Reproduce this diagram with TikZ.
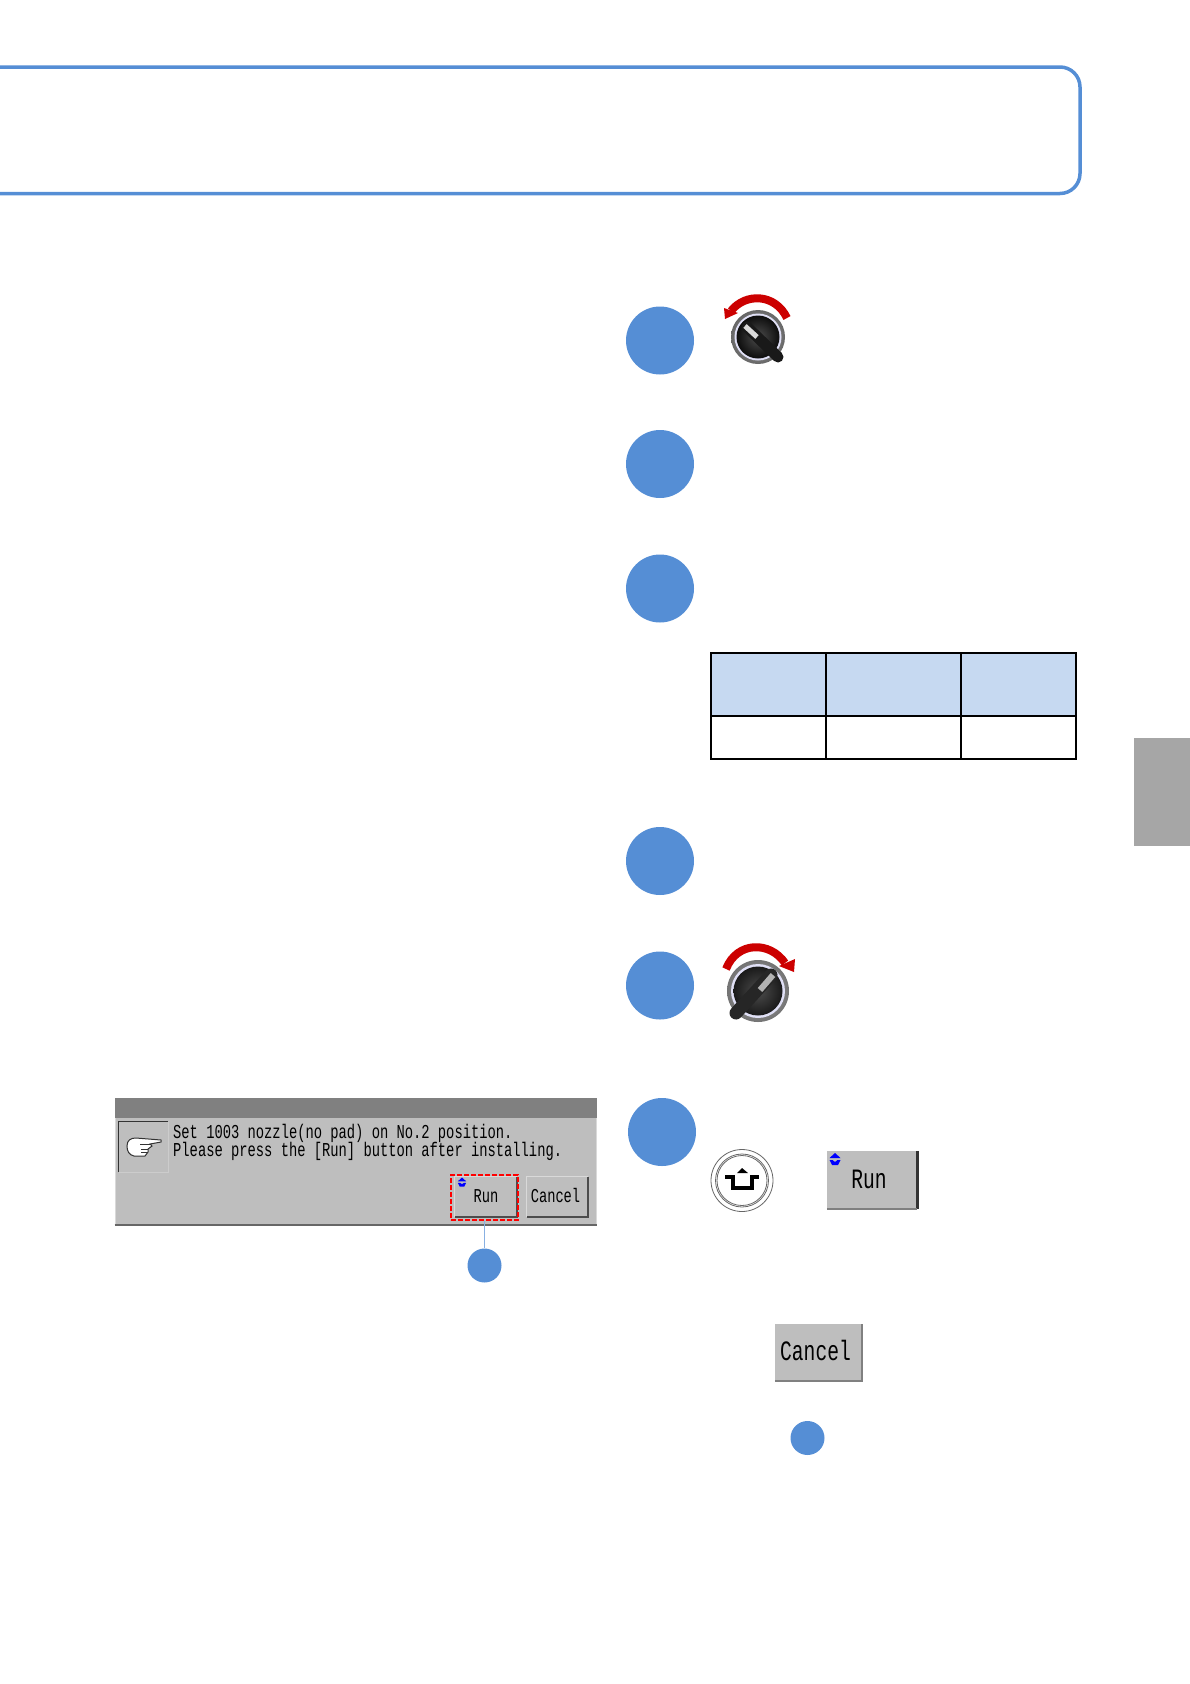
\documentclass[tikz,border=0pt]{standalone}
\usepackage{fontspec}
\usepackage{xcolor}
\usepackage{tikz}
\usetikzlibrary{shapes,arrows,positioning,calc}
\newfontfamily\lcdfont[FakeStretch=0.7]{Liberation Mono}
\definecolor{stepblue}{HTML}{558ED5}
\definecolor{headblue}{HTML}{C6D9F1}
\definecolor{paneltone}{HTML}{BEBEBE}
\definecolor{knobred}{HTML}{CC0000}
\tikzset{
  stepdot/.style={circle, fill=stepblue, inner sep=0pt, minimum size=68pt},
  notedot/.style={circle, fill=stepblue, inner sep=0pt, minimum size=34pt},
  headcell/.style={draw=black, line width=2pt, fill=headblue, inner sep=0pt, minimum height=63pt},
  bodycell/.style={draw=black, line width=2pt, inner sep=0pt, minimum height=43pt},
  panelbtn/.style={fill=paneltone, inner sep=0pt, font=\lcdfont\fontsize{19.6}{22}\selectfont},
  bigbtn/.style={fill=paneltone, inner sep=0pt, font=\lcdfont\fontsize{28}{30}\selectfont},
  dialogline/.style={anchor=base west, inner sep=0pt, font=\lcdfont\fontsize{19.7}{22}\selectfont},
  updown/.pic={
    \fill[blue] (0,-6) -- (5.5,-1) -- (-5.5,-1) -- cycle;
    \fill[blue] (-5.5,1) -- (-2.5,1) -- (0,3) -- (2.5,1) -- (5.5,1) -- (3,6) -- (-3,6) -- cycle;
  }
}
\begin{document}
\begin{tikzpicture}[x=1pt, y=-1pt]
  \useasboundingbox (0,0) rectangle (1190,1684);
  % top frame and side tab
  \draw[stepblue, line width=3.5pt, rounded corners=20pt] (-10,67) -- (1080,67) -- (1080,193.5) -- (-10,193.5);
  \clip (0,0) rectangle (1190,1684);
  \node[fill=black!35, inner sep=0pt, minimum width=56pt, minimum height=108pt] (sidetab) at (1162,792) {};
  % step circles
  \node[stepdot] (stepa) at (660,340.5) {};
  \node[stepdot] (stepb) at (660,464) {};
  \node[stepdot] (stepc) at (660,588.5) {};
  \node[stepdot] (stepd) at (660,861) {};
  \node[stepdot] (stepe) at (660,985.5) {};
  \node[stepdot] (stepf) at (662,1132) {};
  % table
  \node[headcell, minimum width=115pt] (heada) at (768.5,684.5) {};
  \node[headcell, minimum width=135pt] (headb) at (893.5,684.5) {};
  \node[headcell, minimum width=115pt] (headc) at (1018.5,684.5) {};
  \node[bodycell, minimum width=115pt] (cella) at (768.5,737.5) {};
  \node[bodycell, minimum width=135pt] (cellb) at (893.5,737.5) {};
  \node[bodycell, minimum width=115pt] (cellc) at (1018.5,737.5) {};
  % first knob
  \node[circle, inner sep=0pt, minimum size=54pt, inner color=black!30, outer color=black!60] (knoba) at (758,337) {};
  \node[circle, inner sep=0pt, minimum size=47pt, fill=black!30!blue!12] (rima) at (758,337) {};
  \node[circle, inner sep=0pt, minimum size=43pt, inner color=black!70, outer color=black!95] (capa) at (758,337) {};
  \draw[black!90, line width=11pt, line cap=round] (747,327) -- (778,357);
  \draw[black!15, line width=5pt] (745,326) -- (757,337);
  \draw[knobred, line width=8pt] (787,318) .. controls (775,293) and (745,293) .. (731,311);
  \fill[knobred] (724,308) -- (725,319) -- (738,313) -- cycle;
  % second knob
  \node[circle, inner sep=0pt, minimum size=62pt, inner color=black!30, outer color=black!55] (knobb) at (758,991) {};
  \node[circle, inner sep=0pt, minimum size=54pt, fill=black!30!blue!12] (rimb) at (758,991) {};
  \node[circle, inner sep=0pt, minimum size=49pt, inner color=black!70, outer color=black!90] (capb) at (758,991) {};
  \draw[black!85, line width=13pt, line cap=round] (771,975) -- (736,1013);
  \draw[black!30, line width=6pt] (773,975) -- (760,990);
  \draw[knobred, line width=8pt] (726,969) .. controls (737,941) and (770,941) .. (785,963);
  \fill[knobred] (795,959) -- (794,972) -- (779,966) -- cycle;
  % dialog
  \node[fill=paneltone, draw=black!15, line width=1pt, inner sep=0pt, minimum width=481pt, minimum height=126pt] (dialog) at (355.5,1161.5) {};
  \fill[black!50] (dialog.north west) rectangle (dialog.north east |- 0,1118);
  \draw[black!60, line width=2pt] (dialog.south west) -- (dialog.south east);
  \node[inner sep=0pt, minimum width=49pt, minimum height=50pt] (handbox) at (143.5,1147) {};
  \draw[white!80!black, line width=1pt] (handbox.north east) -- (handbox.south east) -- (handbox.south west);
  \draw[black!80, line width=1pt] (handbox.south west) -- (handbox.north west) -- (handbox.north east);
  \filldraw[fill=white, draw=black!80, line width=1pt] (127,1146) .. controls (127,1140) and (131,1138) .. (136,1138) -- (161,1140) -- (161,1142) -- (150,1144) -- (152,1146) -- (148,1149) -- (148,1152) -- (145,1156) -- (134,1156) .. controls (129,1155) and (127,1151) .. (127,1146) -- cycle;
  \draw[black!80, line width=1pt] (140,1144) -- (150,1144) (141,1149) -- (148,1149) (141,1152) -- (147,1152);
  \node[dialogline] (linea) at (173,1138) {Set 1003 nozzle(no pad) on No.2 position.};
  \node[dialogline] (lineb) at (173,1156.5) {Please press the [Run] button after installing.};
  \node[panelbtn, minimum width=62pt, minimum height=40pt] (runbtn) at (486,1197) {\raisebox{2pt}{Run}};
  \node[panelbtn, minimum width=61pt, minimum height=40pt] (cancelbtn) at (557.5,1197) {\raisebox{4pt}{Cancel\hspace*{4pt}}};
  \draw[white!85!black, line width=1pt] (runbtn.south west) -- (runbtn.north west) -- (runbtn.north east);
  \draw[black!70, line width=1.5pt] (runbtn.south west) -- (runbtn.south east) -- (runbtn.north east);
  \draw[white!85!black, line width=1pt] (cancelbtn.south west) -- (cancelbtn.north west) -- (cancelbtn.north east);
  \draw[black!70, line width=1.5pt] (cancelbtn.south west) -- (cancelbtn.south east) -- (cancelbtn.north east);
  \pic[scale=0.75] at (462,1182) {updown};
  \node[draw=red, dash pattern=on 5pt off 2pt, line width=2pt, inner sep=0pt, minimum width=67pt, minimum height=45pt] (runmark) at (484.5,1197.5) {};
  \node[notedot] (markdot) at (484.5,1265.5) {};
  \draw[stepblue!70, line width=1.5pt] (runmark) -- (markdot);
  % shift key
  \node[circle, draw=black!60, line width=0.8pt, fill=white, inner sep=0pt, minimum size=62pt] (shiftkey) at (742,1180.5) {};
  \node[circle, draw=black!60, line width=0.8pt, inner sep=0pt, minimum size=53pt] (shiftrim) at (742,1180.5) {};
  \node[circle, draw=black!60, line width=0.8pt, inner sep=0pt, minimum size=50pt] (shiftcap) at (742,1180.5) {};
  \draw[black, line width=3.5pt] (725,1177) -- (733,1177) -- (733,1188) -- (752,1188) -- (752,1177) -- (759,1177);
  \fill[black] (742,1168) -- (748,1173) -- (737,1173) -- cycle;
  % big buttons
  \node[bigbtn, minimum width=90pt, minimum height=58pt] (runkey) at (872,1180) {\raisebox{2pt}{Run\hspace*{6pt}}};
  \draw[black!80, line width=3pt] (runkey.north east) -- (runkey.south east);
  \draw[black!50, line width=1.5pt] (runkey.south west) -- (runkey.south east);
  \pic at (835,1159) {updown};
  \node[bigbtn, minimum width=87pt, minimum height=57pt] (cancelkey) at (818.5,1352.5) {\raisebox{4pt}{Cancel\hspace*{6pt}}};
  \draw[black!50, line width=1.5pt] (cancelkey.south west) -- (cancelkey.south east) -- (cancelkey.north east);
  \node[notedot] (canceldot) at (807.5,1438) {};
\end{tikzpicture}
\end{document}
